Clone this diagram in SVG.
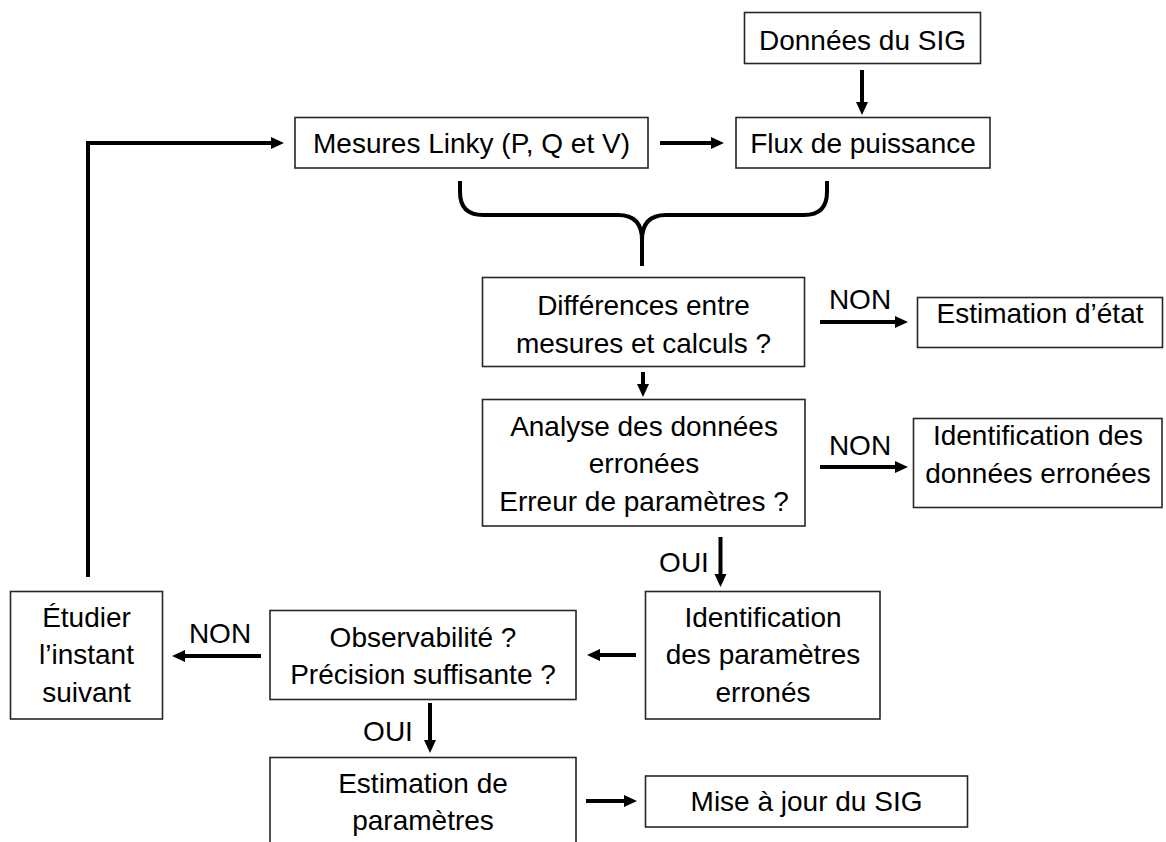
<svg xmlns="http://www.w3.org/2000/svg" width="1166" height="842" viewBox="0 0 1166 842">
  <defs>
    <style>
      .box { fill: #ffffff; stroke: #262626; stroke-width: 1.6; }
      .t { font-family: "Liberation Sans", Arial, sans-serif; font-size: 28px; fill: #000000; text-anchor: middle; }
      .c { fill: none; stroke: #000000; stroke-width: 4; }
    </style>
    <marker id="ah" markerUnits="userSpaceOnUse" markerWidth="14" markerHeight="13" refX="0" refY="6" orient="auto">
      <path d="M0,0 L13,6 L0,12 Z" fill="#000000"/>
    </marker>
  </defs>
  <rect width="1166" height="842" fill="#ffffff"/>

  <g id="connectors">
    <path class="c" d="M88,577 V143 H271" marker-end="url(#ah)"/>
    <path class="c" d="M660,143 H711" marker-end="url(#ah)"/>
    <path class="c" d="M862,70 V102" marker-end="url(#ah)"/>
    <path class="c" d="M460,181 V192 Q460,215 483,215 H618 Q642,215 642,240 V266"/>
    <path class="c" d="M827,181 V192 Q827,215 804,215 H666 Q642,215 642,240"/>
    <path class="c" d="M643,372 V384" marker-end="url(#ah)"/>
    <path class="c" d="M820,322 H895" marker-end="url(#ah)"/>
    <path class="c" d="M820,467 H895" marker-end="url(#ah)"/>
    <path class="c" d="M720.5,537 V574" marker-end="url(#ah)"/>
    <path class="c" d="M636,655 H600" marker-end="url(#ah)"/>
    <path class="c" d="M261,656 H185" marker-end="url(#ah)"/>
    <path class="c" d="M430,703 V740" marker-end="url(#ah)"/>
    <path class="c" d="M586,801 H624" marker-end="url(#ah)"/>
    <text class="t" x="860" y="309">NON</text>
    <text class="t" x="860" y="455">NON</text>
    <text class="t" x="684" y="572">OUI</text>
    <text class="t" x="220" y="643">NON</text>
    <text class="t" x="388" y="741">OUI</text>
  </g>

  <g id="donnees-sig">
    <rect class="box" x="744.5" y="12.5" width="236" height="51"/>
    <text class="t" x="862.5" y="50">Données du SIG</text>
  </g>
  <g id="mesures-linky">
    <rect class="box" x="295" y="117.5" width="353" height="50.5"/>
    <text class="t" x="471.5" y="153">Mesures Linky (P, Q et V)</text>
  </g>
  <g id="flux-puissance">
    <rect class="box" x="736" y="117.5" width="254" height="50.5"/>
    <text class="t" x="863" y="153">Flux de puissance</text>
  </g>
  <g id="differences">
    <rect class="box" x="482.5" y="277.5" width="322" height="89"/>
    <text class="t" x="643.5" y="315">Différences entre</text>
    <text class="t" x="643.5" y="353">mesures et calculs ?</text>
  </g>
  <g id="estimation-etat">
    <rect class="box" x="917.5" y="297.5" width="245" height="50"/>
    <text class="t" x="1040" y="323">Estimation d’état</text>
  </g>
  <g id="analyse">
    <rect class="box" x="482.5" y="399.5" width="322.5" height="126.5"/>
    <text class="t" x="644" y="436">Analyse des données</text>
    <text class="t" x="644" y="473">erronées</text>
    <text class="t" x="644" y="511">Erreur de paramètres ?</text>
  </g>
  <g id="identification-donnees">
    <rect class="box" x="913.5" y="418.5" width="248.5" height="89"/>
    <text class="t" x="1038" y="445">Identification des</text>
    <text class="t" x="1038" y="483">données erronées</text>
  </g>
  <g id="identification-parametres">
    <rect class="box" x="645.5" y="591.5" width="234.5" height="127.5"/>
    <text class="t" x="763" y="627">Identification</text>
    <text class="t" x="763" y="664">des paramètres</text>
    <text class="t" x="763" y="702">erronés</text>
  </g>
  <g id="observabilite">
    <rect class="box" x="270" y="610.5" width="306" height="89"/>
    <text class="t" x="423" y="647">Observabilité ?</text>
    <text class="t" x="423" y="684">Précision suffisante ?</text>
  </g>
  <g id="etudier">
    <rect class="box" x="10.5" y="591.5" width="152" height="127.5"/>
    <text class="t" x="86.5" y="627">Étudier</text>
    <text class="t" x="86.5" y="664">l’instant</text>
    <text class="t" x="86.5" y="702">suivant</text>
  </g>
  <g id="estimation-parametres">
    <rect class="box" x="270" y="757.5" width="306" height="100"/>
    <text class="t" x="423" y="793">Estimation de</text>
    <text class="t" x="423" y="830">paramètres</text>
  </g>
  <g id="mise-a-jour">
    <rect class="box" x="645.5" y="776" width="322" height="51"/>
    <text class="t" x="806.5" y="811">Mise à jour du SIG</text>
  </g>
</svg>
